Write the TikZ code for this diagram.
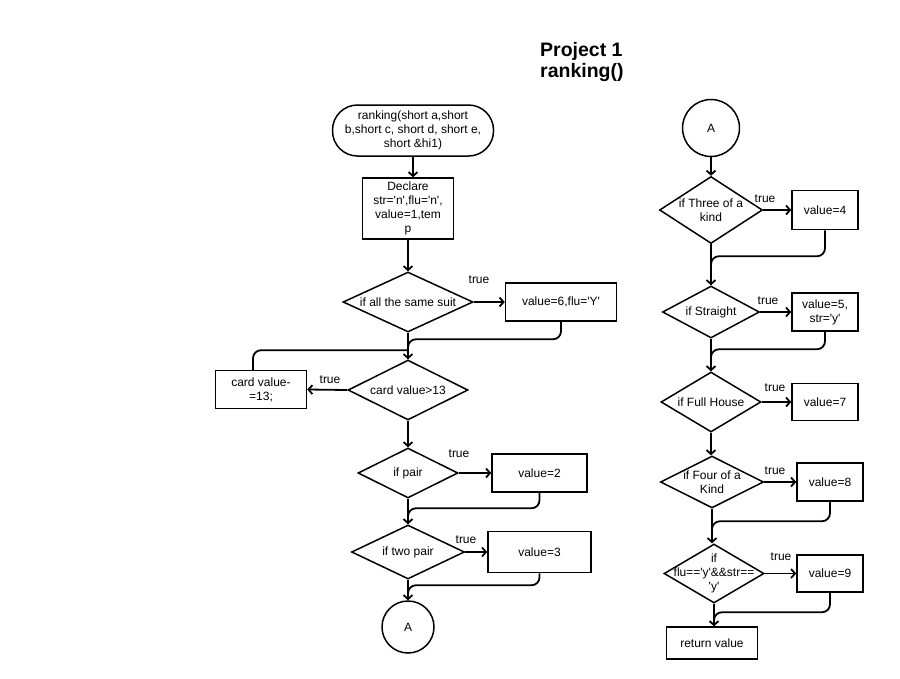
\documentclass[tikz,border=0pt]{standalone}
\usepackage{fontspec}
\setmainfont{Liberation Sans}[Ligatures=TeXOff]
\usetikzlibrary{shapes.geometric,arrows.meta,calc}
\begin{document}
\begin{tikzpicture}[x=1pt,y=-1pt,
  every node/.style={font=\fontsize{12}{14}\selectfont, text=black},
  box/.style={draw, line width=1.5pt, rectangle, inner sep=0pt, align=center},
  term/.style={draw, line width=1.5pt, rectangle, rounded corners=25pt, inner sep=0pt, align=center},
  dia/.style={draw, line width=1.5pt, diamond, inner sep=0pt},
  conn/.style={draw, line width=1.5pt, circle, inner sep=0pt},
  lbl/.style={inner sep=0pt, align=center},
  arr/.style={line width=1.8pt, -{Straight Barb[length=4pt,width=9pt,line width=1.8pt]}},
  ln/.style={line width=1.8pt},
  tl/.style={inner sep=0pt}
]
\useasboundingbox (0,0) rectangle (900,678);

% title
\node[anchor=west, align=left, inner sep=0pt, font=\fontsize{19.5}{21.5}\selectfont\bfseries] (title) at (540,62) {Project 1\\ranking()};

% left column
\node[term, minimum width=161, minimum height=51] (start) at (413,130.5) {ranking(short a,short\\b,short c, short d, short e,\\short \&hi1)};
\node[box, minimum width=91, minimum height=61] (decl) at (408,208.5) {Declare\\str='n',flu='n',\\value=1,tem\\p};
\node[dia, minimum width=130, minimum height=60, label={[lbl]center:if all the same suit}] (dsuit) at (408,302) {};
\node[box, minimum width=111, minimum height=38] (b6) at (561,302) {value=6,flu='Y'};
\node[dia, minimum width=120, minimum height=60, label={[lbl]center:card value>13}] (dcard) at (408,390) {};
\node[box, minimum width=91, minimum height=38] (bcard) at (261,389.5) {card value-\\=13;};
\node[dia, minimum width=100, minimum height=50, label={[lbl]center:if pair}] (dpair) at (408,473) {};
\node[box, minimum width=95, minimum height=38] (b2) at (539.5,473) {value=2};
\node[dia, minimum width=113, minimum height=54, label={[lbl]center:if two pair}] (dtwo) at (408,552) {};
\node[box, minimum width=103, minimum height=41] (b3) at (539.5,552) {value=3};
\node[conn, minimum size=52] (A1) at (408,627) {A};

% true labels left
\node[tl] (t1) at (479,280) {true};
\node[tl] (t2) at (330,380) {true};
\node[tl] (t3) at (459,454) {true};
\node[tl] (t4) at (466,540) {true};

% left connectors
\draw[arr] (start.south) -- (start.south |- decl.north);
\draw[arr] (decl.south) -- (dsuit.north);
\draw[arr] (dsuit.east) -- (b6.west);
\draw[ln] (dsuit.south) -- (dcard.north);
\draw[arr, rounded corners=8pt] (b6.south) |- ($(dcard.north)+(0,-20)$) -- (dcard.north);
\draw[arr] (dcard.west) -- (bcard.east);
\draw[ln, rounded corners=8pt] ([xshift=-8pt]bcard.north) |- ($(dcard.north)+(0,-9)$);
\draw[arr] (dcard.south) -- (dpair.north);
\draw[arr] (dpair.east) -- (b2.west);
\draw[ln] (dpair.south) -- (dtwo.north);
\draw[arr, rounded corners=8pt] (b2.south) |- ($(dtwo.north)+(0,-16)$) -- (dtwo.north);
\draw[arr] (dtwo.east) -- (b3.west);
\draw[ln] (dtwo.south) -- (A1.north);
\draw[arr, rounded corners=8pt] (b3.south) |- ($(A1.north)+(0,-15)$) -- (A1.north);

% right column
\node[conn, minimum size=57] (A2) at (711,128) {A};
\node[dia, minimum width=103, minimum height=67, label={[lbl]center:{if Three of a\\kind}}] (d3k) at (711,210) {};
\node[box, minimum width=66, minimum height=39] (b4) at (825,210) {value=4};
\node[dia, minimum width=97, minimum height=52, label={[lbl]center:if Straight}] (dst) at (711,312) {};
\node[box, minimum width=66, minimum height=38] (b5) at (825,312) {value=5,\\str='y'};
\node[dia, minimum width=100, minimum height=60, label={[lbl]center:if Full House}] (dfh) at (711,402) {};
\node[box, minimum width=66, minimum height=37] (b7) at (825,402) {value=7};
\node[dia, minimum width=103, minimum height=52, label={[lbl]center:{if Four of a\\Kind}}] (d4k) at (712,482) {};
\node[box, minimum width=66, minimum height=38] (b8) at (830,482) {value=8};
\node[dia, minimum width=100, minimum height=59, label={[lbl]center:{if\\flu=='y'\&\&str==\\'y'}}] (dfs) at (714,573.5) {};
\node[box, minimum width=66, minimum height=37] (b9) at (830,573.5) {value=9};
\node[box, minimum width=91, minimum height=32] (ret) at (712,643) {return value};

% true labels right
\node[tl] (t5) at (765,199) {true};
\node[tl] (t6) at (768,301) {true};
\node[tl] (t7) at (775,388) {true};
\node[tl] (t8) at (775,471) {true};
\node[tl] (t9) at (781,557) {true};

% right connectors
\draw[arr] (A2.south) -- (d3k.north);
\draw[arr] (d3k.east) -- (b4.west);
\draw[ln] (d3k.south) -- (d3k.south |- dst.north);
\draw[arr, rounded corners=8pt] (b4.south) |- ($(dst.north)+(0,-29)$) -- (dst.north);
\draw[arr] (dst.east) -- (b5.west);
\draw[ln] (dst.south) -- (dfh.north);
\draw[arr, rounded corners=8pt] (b5.south) |- ($(dfh.north)+(0,-22)$) -- (dfh.north);
\draw[arr] (dfh.east) -- (b7.west);
\draw[arr] (dfh.south) -- (dfh.south |- d4k.north);
\draw[arr] (d4k.east) -- (b8.west);
\draw[ln] (d4k.south) -- (d4k.south |- dfs.north);
\draw[arr, rounded corners=8pt] (b8.south) |- ($(d4k.south |- dfs.north)+(0,-22)$) -- (d4k.south |- dfs.north);
\draw[arr] (dfs.east) -- (b9.west);
\draw[ln] (dfs.south) -- (dfs.south |- ret.north);
\draw[arr, rounded corners=8pt] (b9.south) |- ($(dfs.south |- ret.north)+(0,-14)$) -- (dfs.south |- ret.north);
\end{tikzpicture}
\end{document}
